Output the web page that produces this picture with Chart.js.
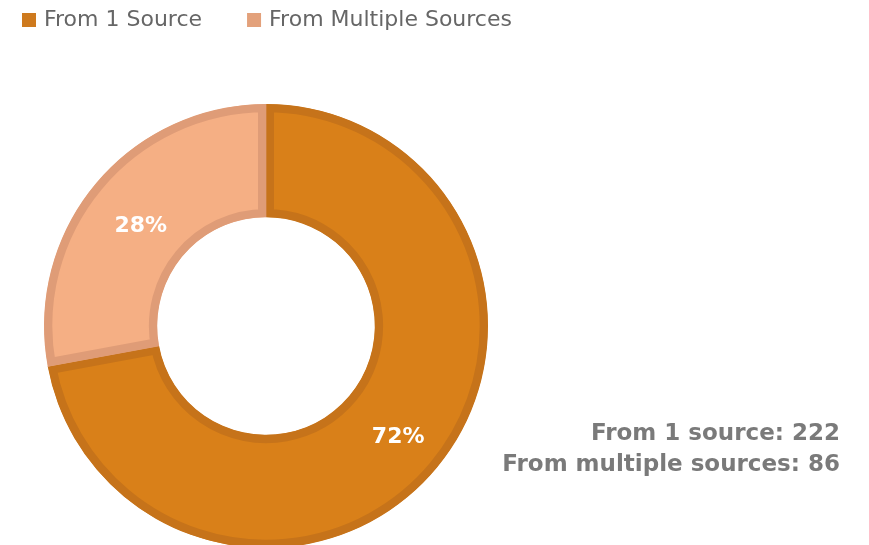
<!DOCTYPE html>
<html>
<head>
<meta charset="utf-8">
<script src="https://cdn.jsdelivr.net/npm/chart.js@4"></script>
<style>
  html, body { margin: 0; padding: 0; background: #fff; overflow: hidden; }
  #wrap { position: relative; width: 869px; height: 560px; }
</style>
</head>
<body>
<div id="wrap"><canvas id="sourcesChart"></canvas></div>
<script>
const labels = ['From 1 Source', 'From Multiple Sources'];
const counts = [222, 86];
const summaryLabels = ['From 1 source', 'From multiple sources'];

const fills = ['#D98019', '#F5AF84'];
const borders = ['#C6731A', '#DF9C77'];
const legendBoxes = ['#CE7A1E', '#E3A17B'];

// legend across the top, drawn by hand so it can sit left of the chart area
const topLegend = {
    id: 'topLegend',
    afterDraw(chart) {
        const ctx = chart.ctx;
        ctx.save();
        ctx.font = '22px "DejaVu Sans"';
        ctx.textBaseline = 'middle';
        let x = 22;
        labels.forEach(function(l, i) {
            ctx.fillStyle = legendBoxes[i];
            ctx.fillRect(x, 13, 14, 14);
            ctx.fillStyle = '#666';
            ctx.fillText(l, x + 22, 20);
            x += 22 + ctx.measureText(l).width + 45;
        });
        ctx.restore();
    }
};

// percent labels inside the slices + the totals on the right
const sliceText = {
    id: 'sliceText',
    afterDatasetsDraw(chart) {
        const ctx = chart.ctx;
        const meta = chart.getDatasetMeta(0);
        const total = counts.reduce((a, b) => a + b, 0);
        ctx.save();
        ctx.fillStyle = '#fff';
        ctx.font = 'bold 22px "DejaVu Sans"';
        ctx.textAlign = 'center';
        ctx.textBaseline = 'middle';
        meta.data.forEach(function(arc, i) {
            const p = arc.getCenterPoint();
            const dx = i === 0 ? 5 : 2;
            ctx.fillText(Math.round(counts[i] / total * 100) + '%', p.x + dx, p.y + 6);
        });

        ctx.fillStyle = '#7a7a7a';
        ctx.font = 'bold 23px "DejaVu Sans"';
        ctx.textAlign = 'right';
        ctx.textBaseline = 'alphabetic';
        summaryLabels.forEach(function(s, i) {
            ctx.fillText(s + ': ' + counts[i], 840, 440 + i * 31);
        });
        ctx.restore();
    }
};

new Chart(document.getElementById('sourcesChart'), {
    type: 'doughnut',
    data: {
        labels: labels,
        datasets: [{
            data: counts,
            backgroundColor: fills,
            borderColor: borders,
            borderWidth: 8,
            borderAlign: 'inner'
        }]
    },
    options: {
        responsive: true,
        maintainAspectRatio: false,
        animation: false,
        cutout: '49%',
        layout: { padding: { left: 44, right: 381, top: 104, bottom: 12 } },
        plugins: {
            tooltip: { enabled: false },
            legend: { display: false }
        }
    },
    plugins: [sliceText, topLegend]
});
</script>
</body>
</html>
